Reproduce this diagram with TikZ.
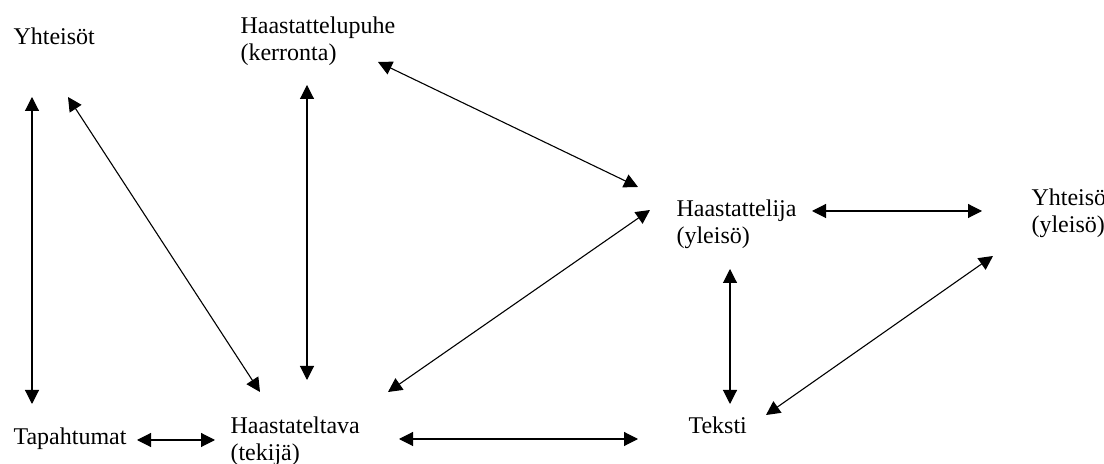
\documentclass[tikz,border=0pt]{standalone}
\usepackage{fontspec}
\setmainfont{Liberation Serif}
\usetikzlibrary{arrows.meta}

\begin{document}
\begin{tikzpicture}[x=0.5pt, y=-0.5pt, <->, >={Triangle[length=7pt,width=7pt]}, line width=0.55pt,
	every node/.style={inner sep=0pt, anchor=base west, align=left, font=\fontsize{12}{13.8}\selectfont}]
	\useasboundingbox (0,0) rectangle (1104,464);

	% base of the last line
	\node (yhteisot) at (13,45) {Yhteisöt};
	\node (puhe) at (240,61) {Haastattelupuhe\\(kerronta)};
	\node (tija) at (676,244) {Haastattelija\\(yleisö)};
	\node (yhteiso) at (1031,233) {Yhteisö\\(yleisö)};
	\node (tapaht) at (13,445) {Tapahtumat};
	\node (tava) at (230,461) {Haastateltava\\(tekijä)};
	\node (teksti) at (688,434) {Teksti};

	% arrow ends
	\coordinate (yhteisot-s) at (32,97);
	\coordinate (tapaht-n) at (32,404);
	\coordinate (yhteisot-se) at (68,97);
	\coordinate (tava-nw) at (260,392);
	\coordinate (puhe-s) at (307,85);
	\coordinate (tava-n) at (307,380);
	\coordinate (puhe-se) at (378,62);
	\coordinate (tija-nw) at (638,187);
	\coordinate (tava-ne) at (388,392);
	\coordinate (tija-sw) at (650,210);
	\coordinate (tija-e) at (812,211);
	\coordinate (yhteiso-w) at (982,211);
	\coordinate (tapaht-e) at (137,440);
	\coordinate (tava-w) at (215,440);
	\coordinate (tava-e) at (399,439);
	\coordinate (teksti-w) at (638,439);
	\coordinate (tija-s) at (730,269);
	\coordinate (teksti-n) at (730,404);
	\coordinate (teksti-ne) at (766,415);
	\coordinate (yhteiso-sw) at (993,256);

	\draw (yhteisot-s) -- (tapaht-n);
	\draw (yhteisot-se) -- (tava-nw);
	\draw (puhe-s) -- (tava-n);
	\draw (puhe-se) -- (tija-nw);
	\draw (tava-ne) -- (tija-sw);
	\draw (tija-e) -- (yhteiso-w);
	\draw (tapaht-e) -- (tava-w);
	\draw (tava-e) -- (teksti-w);
	\draw (tija-s) -- (teksti-n);
	\draw (teksti-ne) -- (yhteiso-sw);
\end{tikzpicture}
\end{document}
